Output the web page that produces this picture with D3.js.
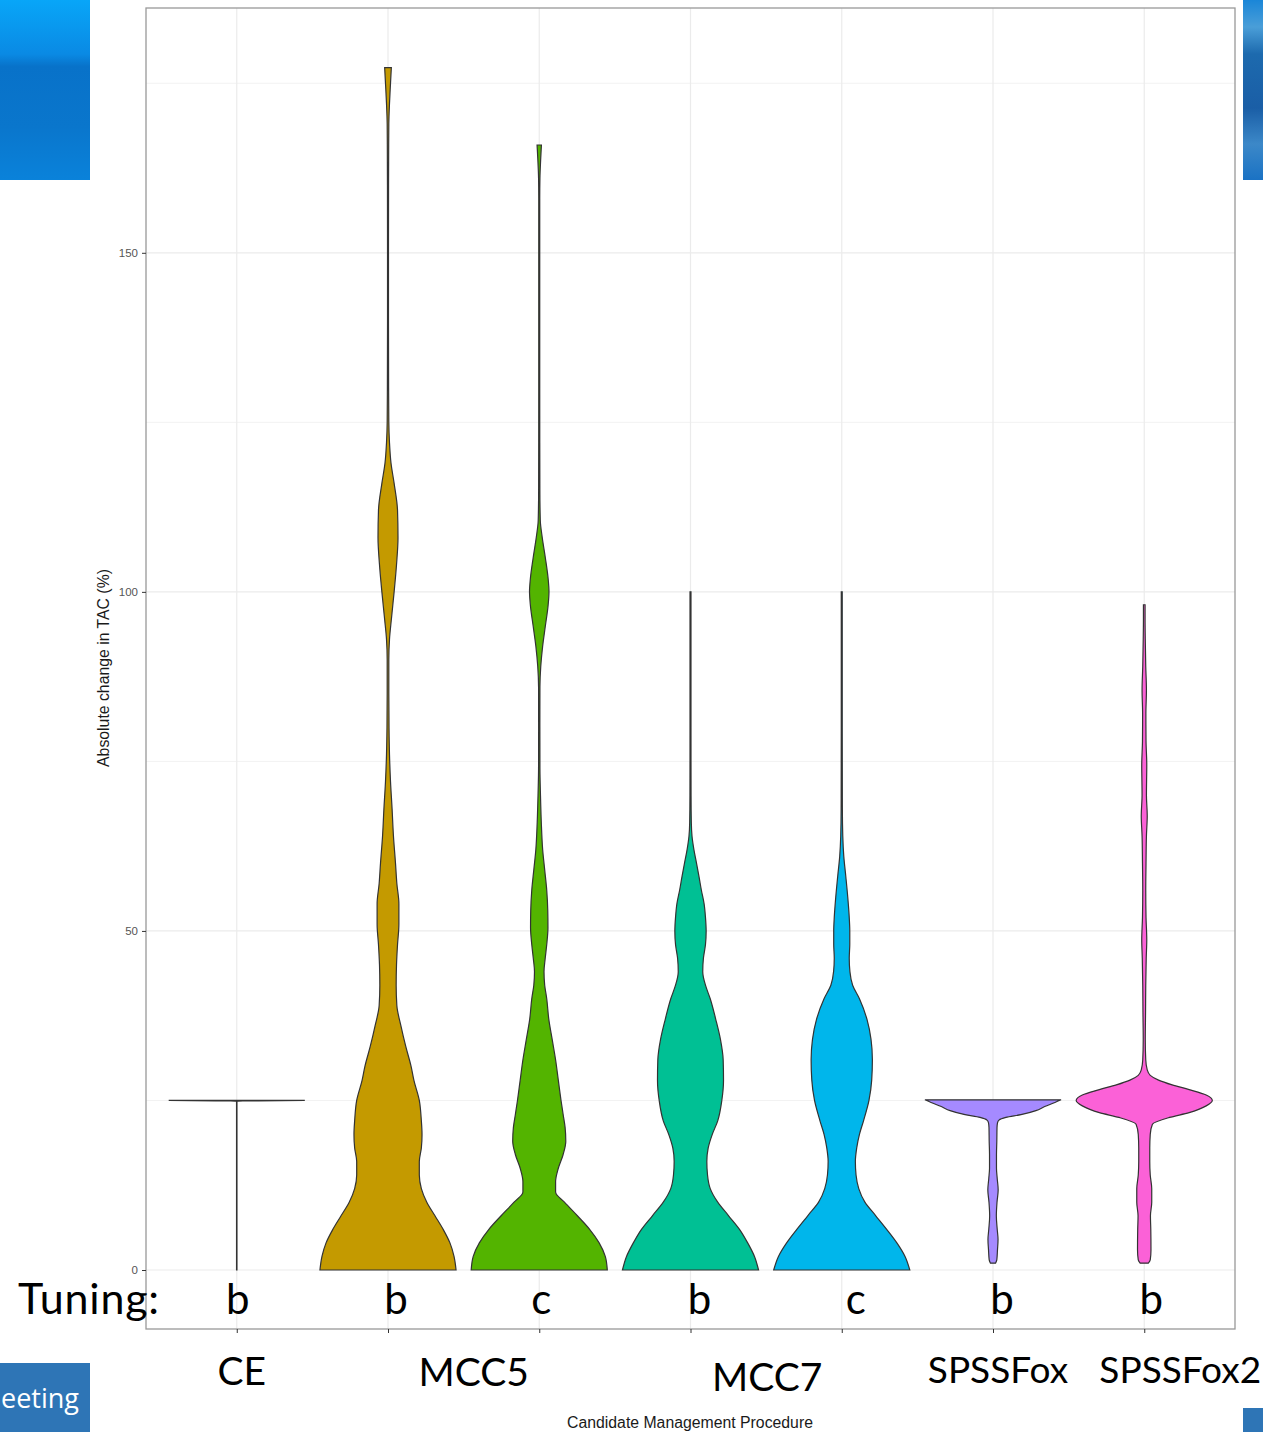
<!DOCTYPE html>
<html>
<head>
<meta charset="utf-8">
<script src="https://cdn.jsdelivr.net/npm/d3@7"></script>
<style>
  body { margin: 0; background: #fff; }
  svg { display: block; }
</style>
</head>
<body>
<div class="chart"></div>
<script>
// groups along the x axis, in plot order
const groups = ["CE_b", "MCC5_b", "MCC5_c", "MCC7_b", "MCC7_c", "SPSSFox_b", "SPSSFox2_b"];
const tuning = ["b", "b", "c", "b", "c", "b", "b"];
const procedures = ["CE", "MCC5", "MCC7", "SPSSFox", "SPSSFox2"];
const procedureGroups = [["CE_b"], ["MCC5_b", "MCC5_c"], ["MCC7_b", "MCC7_c"], ["SPSSFox_b"], ["SPSSFox2_b"]];
const fills = ["#F8766D", "#C49A00", "#53B400", "#00C094", "#00B6EB", "#A58AFF", "#FB61D7"];
const yTicks = [0, 50, 100, 150];
const yMinor = [25, 75, 125, 175];

// violin profiles: [abs change in TAC (%), density relative to the group max]
const ceDensity = [[0, 0.003], [24.9, 0.003], [25, 1]];
const mcc5bDensity = [
  [0, 1], [2, 0.97], [4, 0.91], [6, 0.81], [8, 0.69], [10, 0.57], [12, 0.49], [14, 0.46],
  [16, 0.46], [18, 0.49], [20, 0.5], [22, 0.49], [25, 0.46], [28, 0.38], [30, 0.34],
  [33, 0.26], [36, 0.19], [39, 0.13], [42, 0.12], [45, 0.125], [48, 0.14], [51, 0.16],
  [54, 0.16], [57, 0.13], [60, 0.11], [64, 0.08], [68, 0.06], [72, 0.037], [76, 0.022],
  [80, 0.015], [85, 0.012], [90, 0.012], [93, 0.022], [96, 0.05], [100, 0.09], [104, 0.125],
  [108, 0.147], [112, 0.14], [116, 0.09], [119, 0.044], [122, 0.022], [125, 0.012],
  [130, 0.009], [140, 0.007], [150, 0.007], [160, 0.008], [166, 0.01], [169, 0.012],
  [172, 0.022], [175, 0.037], [177.3, 0.049]
];
const mcc5cDensity = [
  [0, 1], [2, 0.97], [4, 0.88], [6, 0.74], [8, 0.56], [10, 0.37], [11.5, 0.24], [13, 0.24],
  [15, 0.28], [17, 0.35], [19, 0.39], [21, 0.38], [23, 0.35], [25, 0.32], [28, 0.28],
  [31, 0.24], [34, 0.19], [37, 0.14], [40, 0.11], [42, 0.08], [44, 0.07], [46, 0.088],
  [48, 0.11], [50.5, 0.128], [53, 0.125], [56, 0.11], [59, 0.08], [62, 0.05], [66, 0.03],
  [70, 0.018], [74, 0.01], [80, 0.009], [86, 0.01], [89, 0.022], [92, 0.05], [95, 0.09],
  [98, 0.13], [100, 0.143], [102, 0.13], [105, 0.09], [108, 0.044], [110.6, 0.015],
  [115, 0.009], [130, 0.007], [150, 0.007], [158, 0.007], [161, 0.01], [164, 0.022],
  [165.9, 0.032]
];
const mcc7bDensity = [
  [0, 1], [2, 0.94], [4, 0.84], [6, 0.72], [8, 0.56], [10, 0.4], [12, 0.29], [14, 0.25],
  [16, 0.24], [18, 0.26], [20, 0.32], [22, 0.4], [25, 0.46], [28, 0.485], [31, 0.48],
  [34, 0.44], [37, 0.37], [40, 0.29], [42, 0.22], [44, 0.18], [46, 0.19], [48, 0.22],
  [50, 0.23], [52, 0.22], [54, 0.2], [56, 0.16], [58, 0.125], [60, 0.088], [62, 0.05],
  [64, 0.022], [66, 0.012], [70, 0.008], [80, 0.007], [100, 0.007]
];
const mcc7cDensity = [
  [0, 1], [2, 0.93], [4, 0.81], [6, 0.66], [8, 0.5], [10, 0.34], [12, 0.25], [14, 0.21],
  [16, 0.2], [18, 0.22], [20, 0.26], [22, 0.32], [25, 0.4], [28, 0.44], [31, 0.45],
  [34, 0.43], [37, 0.37], [40, 0.26], [42, 0.16], [44, 0.12], [46, 0.11], [48, 0.118],
  [50, 0.118], [52, 0.11], [55, 0.088], [58, 0.06], [61, 0.03], [64, 0.015], [68, 0.009],
  [80, 0.007], [100, 0.007]
];
const spssfoxDensity = [
  [1, 0.037], [1.5, 0.056], [3, 0.066], [4.5, 0.074], [6, 0.062], [8, 0.049], [10, 0.059],
  [11.8, 0.076], [13.5, 0.062], [15, 0.051], [17, 0.051], [19, 0.056], [21, 0.059],
  [21.7, 0.066], [22.1, 0.088], [22.5, 0.19], [22.9, 0.41], [23.5, 0.63], [24.1, 0.76],
  [24.7, 0.91], [25.1, 1]
];
const spssfox2Density = [
  [1, 0.06], [1.5, 0.088], [3, 0.099], [6, 0.096], [8, 0.091], [10, 0.11], [12, 0.11],
  [14, 0.088], [16, 0.081], [18, 0.081], [20, 0.088], [21.5, 0.12], [22.5, 0.37],
  [23.2, 0.66], [24.2, 0.91], [25, 1], [25.8, 0.91], [26.6, 0.66], [27.3, 0.41], [28, 0.21],
  [28.7, 0.088], [29.5, 0.044], [31, 0.022], [34, 0.015], [38, 0.019], [42, 0.022],
  [46, 0.029], [48.7, 0.037], [52, 0.026], [56, 0.022], [60, 0.026], [64, 0.032],
  [67, 0.044], [70, 0.032], [74.5, 0.037], [78, 0.026], [82, 0.024], [85.5, 0.032],
  [89, 0.022], [93, 0.015], [96, 0.012], [98.1, 0.012]
];
const densities = [ceDensity, mcc5bDensity, mcc5cDensity, mcc7bDensity, mcc7cDensity, spssfoxDensity, spssfox2Density];

const width = 1263, height = 1432;
const panel = { left: 146, right: 1235, top: 8, bottom: 1329 };

const svg = d3.select(".chart").append("svg")
  .attr("width", width)
  .attr("height", height);

const defs = svg.append("defs");
const g1 = defs.append("linearGradient").attr("id", "blueTL").attr("x1", 0).attr("y1", 0).attr("x2", 0).attr("y2", 1);
[["0%", "#08a6f8"], ["30%", "#0a8ae4"], ["37%", "#0872c9"], ["70%", "#0a76cc"], ["100%", "#0a82da"]]
  .forEach(([o, c]) => g1.append("stop").attr("offset", o).attr("stop-color", c));
const g2 = defs.append("linearGradient").attr("id", "blueTR").attr("x1", 0).attr("y1", 0).attr("x2", 0).attr("y2", 1);
[["0%", "#1a86d8"], ["15%", "#4a9ed8"], ["30%", "#1d6aae"], ["60%", "#1a5ea6"], ["80%", "#3c88c8"], ["100%", "#1a72c4"]]
  .forEach(([o, c]) => g2.append("stop").attr("offset", o).attr("stop-color", c));

const x = d3.scalePoint()
  .domain(groups)
  .range([panel.left, panel.right])
  .padding(0.6);

const y = d3.scaleLinear()
  .domain([-8.7, 186.1])
  .range([panel.bottom, panel.top]);

const halfWidth = d3.scaleLinear()
  .domain([0, 1])
  .range([0, x.step() * 0.45]);

// grid
const grid = svg.append("g");
grid.selectAll(".minor")
  .data(yMinor)
  .enter()
  .append("line")
  .attr("x1", panel.left).attr("x2", panel.right)
  .attr("y1", (d) => y(d)).attr("y2", (d) => y(d))
  .attr("stroke", "#f2f2f2").attr("stroke-width", 1);
grid.selectAll(".major")
  .data(yTicks)
  .enter()
  .append("line")
  .attr("x1", panel.left).attr("x2", panel.right)
  .attr("y1", (d) => y(d)).attr("y2", (d) => y(d))
  .attr("stroke", "#ebebeb").attr("stroke-width", 1.2);
grid.selectAll(".vmajor")
  .data(groups)
  .enter()
  .append("line")
  .attr("x1", (d) => x(d)).attr("x2", (d) => x(d))
  .attr("y1", panel.top).attr("y2", panel.bottom)
  .attr("stroke", "#ebebeb").attr("stroke-width", 1.2);

// violins
const area = d3.area()
  .curve(d3.curveMonotoneY)
  .y((d) => y(d[0]));

svg.append("g")
  .selectAll("path")
  .data(groups)
  .enter()
  .append("path")
  .attr("d", (g, i) => area
    .x0((d) => x(g) - halfWidth(d[1]))
    .x1((d) => x(g) + halfWidth(d[1]))(densities[i]))
  .attr("fill", (d, i) => fills[i])
  .attr("stroke", "#333333")
  .attr("stroke-width", 1.2);

// panel border
svg.append("rect")
  .attr("x", panel.left).attr("y", panel.top)
  .attr("width", panel.right - panel.left)
  .attr("height", panel.bottom - panel.top)
  .attr("fill", "none")
  .attr("stroke", "#999")
  .attr("stroke-width", 1.3);

// axes
const yAxis = d3.axisLeft(y).tickValues(yTicks).tickSize(4).tickPadding(4);
svg.append("g")
  .attr("transform", `translate(${panel.left},0)`)
  .call(yAxis)
  .call((g) => g.select(".domain").remove())
  .call((g) => g.selectAll("line").attr("stroke", "#333"))
  .call((g) => g.selectAll("text")
    .style("fill", "#555555")
    .style("font-family", "'Liberation Sans', Arial, sans-serif")
    .style("font-size", "11.5px"));

const xAxis = d3.axisBottom(x).tickSize(4).tickFormat("");
svg.append("g")
  .attr("transform", `translate(0,${panel.bottom})`)
  .call(xAxis)
  .call((g) => g.select(".domain").remove())
  .call((g) => g.selectAll("line").attr("stroke", "#333"));

svg.append("text")
  .attr("transform", "translate(109,668) rotate(-90)")
  .attr("text-anchor", "middle")
  .style("font-family", "'Liberation Sans', Arial, sans-serif")
  .style("font-size", "15.8px")
  .style("fill", "#1a1a1a")
  .text("Absolute change in TAC (%)");

svg.append("text")
  .attr("x", 690)
  .attr("y", 1428)
  .attr("text-anchor", "middle")
  .style("font-family", "'Liberation Sans', Arial, sans-serif")
  .style("font-size", "15.8px")
  .style("fill", "#1a1a1a")
  .text("Candidate Management Procedure");

// slide annotations
const slideFont = "Lato, 'Open Sans', sans-serif";
svg.append("text")
  .attr("x", 18).attr("y", 1314)
  .style("font-family", slideFont)
  .style("font-size", "43px")
  .style("letter-spacing", "0.8px")
  .style("fill", "#000")
  .text("Tuning:");

const tuneOffsets = [1, 8, 2, 9, 14, 9, 7];
svg.append("g")
  .selectAll("text")
  .data(groups)
  .enter()
  .append("text")
  .attr("x", (d, i) => x(d) + tuneOffsets[i])
  .attr("y", 1314)
  .attr("text-anchor", "middle")
  .style("font-family", slideFont)
  .style("font-size", "42px")
  .style("fill", "#000")
  .text((d, i) => tuning[i]);

const procOffsets = [5, 10, 1, 5, 36];
const procBase = [1385, 1386, 1391, 1383, 1383];
svg.append("g")
  .selectAll("text")
  .data(procedures)
  .enter()
  .append("text")
  .attr("x", (d, i) => d3.mean(procedureGroups[i], (gr) => x(gr)) + procOffsets[i])
  .attr("y", (d, i) => procBase[i])
  .attr("text-anchor", "middle")
  .style("font-family", slideFont)
  .style("font-size", (d, i) => (i < 3 ? "39px" : "37px"))
  .style("fill", "#000")
  .text((d) => d);

// slide decorations around the picture
svg.append("rect").attr("x", 0).attr("y", 0).attr("width", 90).attr("height", 180).attr("fill", "url(#blueTL)");
svg.append("rect").attr("x", 1243).attr("y", 0).attr("width", 20).attr("height", 180).attr("fill", "url(#blueTR)");
svg.append("rect").attr("x", 0).attr("y", 1363).attr("width", 90).attr("height", 69).attr("fill", "#2e75b6");
svg.append("rect").attr("x", 1243).attr("y", 1408).attr("width", 20).attr("height", 24).attr("fill", "#2e75b6");
svg.append("text")
  .attr("x", 1).attr("y", 1408)
  .style("font-family", "'Open Sans', sans-serif")
  .style("font-size", "27px")
  .style("fill", "#fff")
  .text("eeting");
</script>
</body>
</html>
